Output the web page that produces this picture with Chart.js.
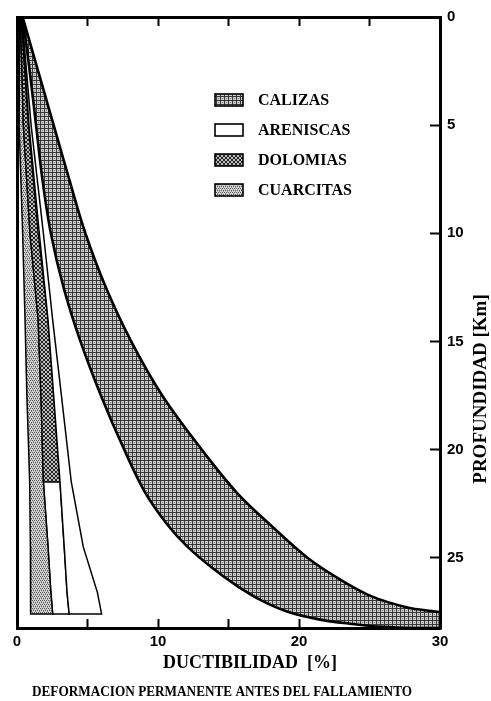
<!DOCTYPE html>
<html><head><meta charset="utf-8">
<script src="https://cdn.jsdelivr.net/npm/chart.js@4.4.1/dist/chart.umd.min.js"></script>
<style>html,body{margin:0;padding:0;background:#fff;}canvas{display:block;}</style>
</head><body>
<canvas id="c" width="491" height="701"></canvas>
<script>
// ---------- data (ductility % vs depth km) ----------
const seriesLabels = ['CALIZAS', 'ARENISCAS', 'DOLOMIAS', 'CUARCITAS'];
const xTickLabels = [0, 10, 20, 30];
const yTickLabels = [0, 5, 10, 15, 20, 25];
const xTitle = 'DUCTIBILIDAD  [%]';
const yTitle = 'PROFUNDIDAD [Km]';
const caption = 'DEFORMACION PERMANENTE ANTES DEL FALLAMIENTO';

// Calizas (limestone) band
const calizasLeftDepth = [0, 2.5, 5, 7.5, 10, 12.5, 15, 17.5, 20, 22, 23.5, 24.5, 25.5, 26.3, 27, 27.5, 27.85, 28.05, 28.2, 28.25, 28.25];
const calizasLeftPct   = [0.4, 0.9, 1.35, 1.8, 2.4, 3.3, 4.5, 5.95, 7.6, 9.1, 10.7, 12.1, 13.9, 15.6, 17.4, 19.2, 21.4, 23.6, 26, 28, 30];
const calizasRightDepth = [0, 2.5, 5, 7.5, 10, 12.5, 15, 17.5, 20, 22, 23.5, 25, 26, 26.8, 27.3, 27.5, 27.55];
const calizasRightPct   = [0.4, 1.5, 2.6, 3.7, 4.85, 6.3, 8.1, 10.3, 13.1, 15.6, 18.0, 20.6, 22.9, 25.2, 27.7, 29.8, 30];

// small bands on a common depth grid
const bandDepth       = [0, 5, 10, 14, 17.5, 21.5, 24.5, 26.6, 27.6];
const cuarcitasLeft   = [0.2, 0.15, 0.4, 0.57, 0.7, 0.9, 0.95, 0.96, 0.97];
const cuarcitasRight  = [0.25, 0.45, 0.92, 1.5, 1.7, 1.87, 2.2, 2.4, 2.53];
const areniscasLeft   = [0.3, 0.85, 1.58, 2.2, 2.6, 3.05, 3.35, 3.55, 3.7];
const areniscasRight  = [0.35, 1.0, 1.87, 2.53, 3.15, 3.85, 4.7, 5.7, 6.0];
const dolomiasDepth   = [0, 5, 10, 14, 17.5, 21.5];
const dolomiasLeft    = [0.25, 0.45, 0.92, 1.5, 1.7, 1.87];
const dolomiasRight   = [0.3, 0.8, 1.5, 2.2, 2.6, 3.05];

// ---------- helpers ----------
function pts(depths, pcts) { return depths.map((d, i) => ({x: pcts[i], y: d})); }
function band(lD, lX, rD, rX) {
  return pts(lD, lX).concat(pts(rD, rX).reverse());
}
const canvas = document.getElementById('c');
const mainCtx = canvas.getContext('2d');
function makePattern(size, bg, layers) {
  const c = document.createElement('canvas');
  c.width = c.height = size;
  const g = c.getContext('2d');
  g.fillStyle = bg; g.fillRect(0, 0, size, size);
  layers.forEach(([color, cells]) => {
    g.fillStyle = color;
    cells.forEach(([x, y]) => g.fillRect(x, y, 1, 1));
  });
  return mainCtx.createPattern(c, 'repeat');
}
const patCalizas = makePattern(4, '#cdcdcd', [['#363636', [[0,0],[1,0],[2,0],[3,0],[0,1],[0,2],[0,3]]], ['#7a7a7a', [[2,2]]]]);
const patDolomias = makePattern(4, '#c0c0c0', [['#222222', [[0,0],[1,1],[2,2],[3,3],[3,0],[2,1],[1,2],[0,3]]]]);
const patCuarcitas = makePattern(4, '#d4d4d4', [['#585858', [[0,0],[2,0],[1,2],[3,2]]], ['#929292', [[1,1],[3,3]]]]);

const gapIdx = 5; // below the end of dolomias: white gap between cuarcitas and areniscas

const datasets = [
  {label: seriesLabels[0], data: band(calizasLeftDepth, calizasLeftPct, calizasRightDepth, calizasRightPct),
   backgroundColor: patCalizas, borderWidth: 2.6, tension: 0.35},
  {label: seriesLabels[1], data: band(bandDepth, areniscasLeft, bandDepth, areniscasRight),
   backgroundColor: '#ffffff', borderWidth: 1.5},
  {label: seriesLabels[2], data: band(dolomiasDepth, dolomiasLeft, dolomiasDepth, dolomiasRight),
   backgroundColor: patDolomias, borderWidth: 1.3},
  {label: seriesLabels[3], data: band(bandDepth, cuarcitasLeft, bandDepth, cuarcitasRight),
   backgroundColor: patCuarcitas, borderWidth: 1.5},
  {label: '', data: band(bandDepth.slice(gapIdx), cuarcitasRight.slice(gapIdx), bandDepth.slice(gapIdx), areniscasLeft.slice(gapIdx)),
   backgroundColor: 'rgba(255,255,255,0)', borderWidth: 1.5}
].map(d => Object.assign({showLine: true, fill: 'shape', borderColor: '#000', pointRadius: 0, tension: 0}, d));

// ---------- plugins ----------
const bandLegend = {
  id: 'bandLegend',
  afterDatasetsDraw(chart) {
    const ctx = chart.ctx;
    const items = chart.data.datasets.filter(d => d.label);
    ctx.save();
    ctx.font = 'bold 16px "Liberation Serif", "Times New Roman", serif';
    ctx.textBaseline = 'middle';
    items.forEach((d, i) => {
      const y = 100 + i * 30;
      ctx.fillStyle = d.backgroundColor;
      ctx.fillRect(215, y - 6, 28, 12);
      ctx.lineWidth = 1.6; ctx.strokeStyle = '#000';
      ctx.strokeRect(215, y - 6, 28, 12);
      ctx.fillStyle = '#000';
      ctx.fillText(d.label, 258, y + 1);
    });
    ctx.restore();
  }
};
const titles = {
  id: 'titles',
  afterDraw(chart) {
    const ctx = chart.ctx;
    ctx.save();
    ctx.fillStyle = '#000';
    ctx.textAlign = 'center';
    ctx.textBaseline = 'middle';
    ctx.font = 'bold 18px "Liberation Serif", "Times New Roman", serif';
    ctx.fillText(xTitle, 250, 663);
    ctx.font = 'bold 15px "Liberation Serif", "Times New Roman", serif';
    ctx.fillText(caption, 222, 692, 380);
    ctx.translate(481, 389);
    ctx.rotate(-Math.PI / 2);
    ctx.font = 'bold 19px "Liberation Serif", "Times New Roman", serif';
    ctx.fillText(yTitle, 0, 0);
    ctx.restore();
  }
};

const tickFont = {family: '"Liberation Sans", Arial, sans-serif', size: 15, weight: 'bold'};
const border = {display: true, color: '#000', width: 3};
function noPad(s) { s.paddingTop = 0; s.paddingBottom = 0; s.paddingLeft = 0; s.paddingRight = 0; }

new Chart(canvas, {
  type: 'scatter',
  data: {datasets},
  options: {
    responsive: false,
    animation: false,
    events: [],
    devicePixelRatio: 1,
    layout: {padding: {left: 17, top: 17, right: 0, bottom: 0}},
    plugins: {legend: {display: false}, tooltip: {enabled: false}},
    scales: {
      x: {
        type: 'linear', position: 'bottom', min: 0, max: 30,
        ticks: {stepSize: 5, autoSkip: false, maxRotation: 0, color: '#000', font: tickFont, padding: 14,
                callback: v => xTickLabels.includes(v) ? String(v) : ''},
        grid: {drawOnChartArea: false, tickLength: -9, tickWidth: 2, tickColor: '#000'},
        border,
        afterFit: s => { s.height = 73; noPad(s); }
      },
      xTop: {
        type: 'linear', position: 'top', min: 0, max: 30,
        ticks: {stepSize: 5, display: false},
        grid: {drawOnChartArea: false, tickLength: -9, tickWidth: 2, tickColor: '#000'},
        border,
        afterFit: s => { s.height = 0; noPad(s); }
      },
      y: {
        type: 'linear', position: 'right', min: 0, max: 28.25, reverse: true,
        ticks: {stepSize: 5, includeBounds: false, color: '#000', font: tickFont, padding: 17,
                callback: v => yTickLabels.includes(v) ? String(v) : ''},
        grid: {drawOnChartArea: false, tickLength: -10, tickWidth: 2, tickColor: '#000'},
        border,
        afterFit: s => { s.width = 51; noPad(s); }
      },
      yLeft: {
        type: 'linear', position: 'left', min: 0, max: 28.25, reverse: true,
        ticks: {display: false},
        grid: {drawOnChartArea: false, drawTicks: false},
        border,
        afterFit: s => { s.width = 0; noPad(s); }
      }
    }
  },
  plugins: [bandLegend, titles]
});
</script>
</body></html>
